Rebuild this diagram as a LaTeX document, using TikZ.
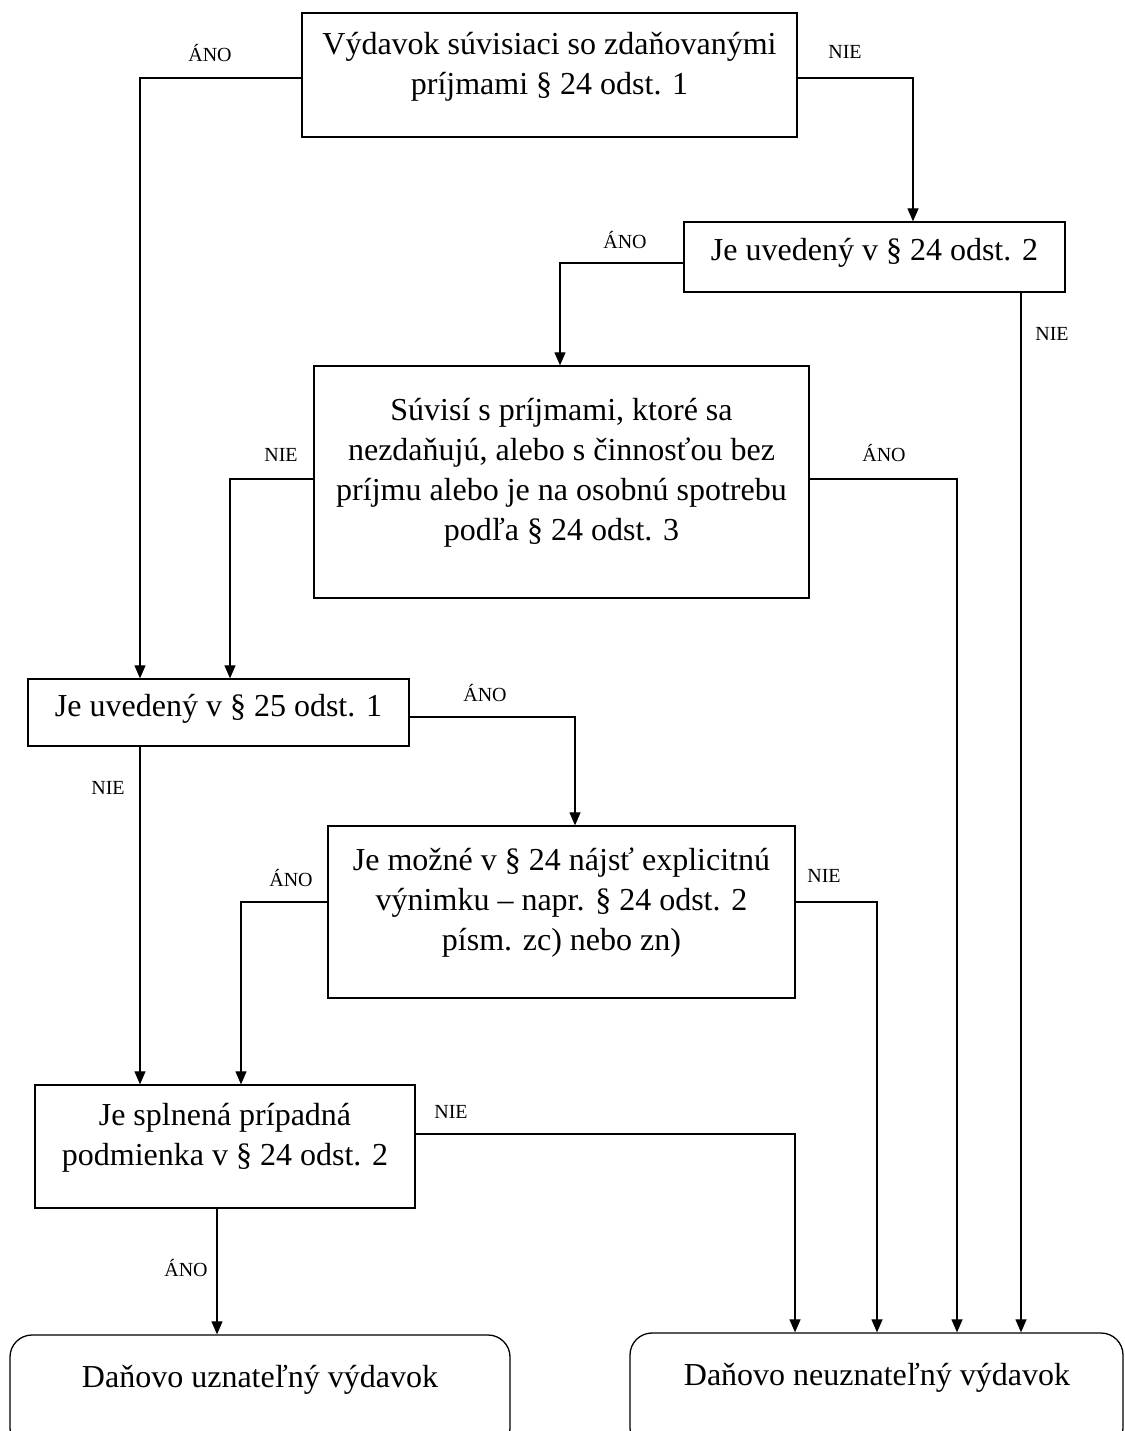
\documentclass[tikz,border=0pt]{standalone}
\usepackage{fontspec}
\setmainfont{Liberation Serif}
\usetikzlibrary{arrows.meta}
\begin{document}
\begin{tikzpicture}[x=1pt,y=-1pt,
  box/.style={draw, line width=1.3pt, rectangle, inner sep=0pt},
  endbox/.style={box, rounded corners=22pt},
  txt/.style={align=center, font=\fontsize{32}{40}\selectfont, inner sep=0pt},
  lbl/.style={font=\fontsize{20}{24}\selectfont, inner sep=0pt},
  conn/.style={line width=1.2pt, -{Triangle[length=13pt,width=11pt]}}]
\useasboundingbox (0,0) rectangle (1124,1431);
\clip (0,0) rectangle (1124,1431);
% boxes
\node[box, minimum width=495pt, minimum height=124pt] (b1) at (549.5,75) {};
\node[box, minimum width=381pt, minimum height=70pt] (b2) at (874.5,257) {};
\node[box, minimum width=495pt, minimum height=232pt] (b3) at (561.5,482) {};
\node[box, minimum width=381pt, minimum height=67pt] (b4) at (218.5,712.5) {};
\node[box, minimum width=467pt, minimum height=172pt] (b5) at (561.5,912) {};
\node[box, minimum width=380pt, minimum height=123pt] (b6) at (225,1146.5) {};
\node[endbox, minimum width=500pt, minimum height=115pt] (b7) at (260,1392.5) {};
\node[endbox, minimum width=493pt, minimum height=117pt] (b8) at (876.5,1391.5) {};
% texts
\node[txt] (t1) at (549.5,67) {Výdavok súvisiaci so zdaňovanými\\príjmami § 24 odst. 1};
\node[txt] (t2) at (874.5,253) {Je uvedený v § 24 odst. 2};
\node[txt] (t3) at (561.5,473) {Súvisí s príjmami, ktoré sa\\nezdaňujú, alebo s činnosťou bez\\príjmu alebo je na osobnú spotrebu\\podľa § 24 odst. 3};
\node[txt] (t4) at (218.5,709) {Je uvedený v § 25 odst. 1};
\node[txt] (t5) at (561.5,903) {Je možné v § 24 nájsť explicitnú\\výnimku – napr. § 24 odst. 2\\písm. zc) nebo zn)};
\node[txt] (t6) at (225,1138) {Je splnená prípadná\\podmienka v § 24 odst. 2};
\node[txt] (t7) at (260,1380) {Daňovo uznateľný výdavok};
\node[txt] (t8) at (877,1378) {Daňovo neuznateľný výdavok};
% connectors
\draw[conn] ([yshift=-3pt]b1.west) -| ([xshift=-78.5pt]b4.north);
\draw[conn] ([yshift=-3pt]b1.east) -| ([xshift=38.5pt]b2.north);
\draw[conn] ([yshift=-6pt]b2.west) -| ([xshift=-1.5pt]b3.north);
\draw[conn] ([xshift=146.5pt]b2.south) -- ([xshift=146.5pt]b2.south |- b8.north);
\draw[conn] ([yshift=3pt]b3.west) -| ([xshift=11.5pt]b4.north);
\draw[conn] ([yshift=3pt]b3.east) -| ([xshift=80.5pt]b8.north);
\draw[conn] ([yshift=-4.5pt]b4.east) -| ([xshift=13.5pt]b5.north);
\draw[conn] ([xshift=-78.5pt]b4.south) -- ([xshift=-78.5pt]b4.south |- b6.north);
\draw[conn] ([yshift=10pt]b5.west) -| ([xshift=16pt]b6.north);
\draw[conn] ([yshift=10pt]b5.east) -| ([xshift=0.5pt]b8.north);
\draw[conn] ([yshift=12.5pt]b6.east) -| ([xshift=-81.5pt]b8.north);
\draw[conn] ([xshift=-8pt]b6.south) -- ([xshift=-8pt]b6.south |- b7.north);
% labels
\node[lbl] (l1) at (210,53) {ÁNO};
\node[lbl] (l2) at (845,52) {NIE};
\node[lbl] (l3) at (625,240) {ÁNO};
\node[lbl] (l4) at (1052,334) {NIE};
\node[lbl] (l5) at (281,455) {NIE};
\node[lbl] (l6) at (884,453) {ÁNO};
\node[lbl] (l7) at (485,693) {ÁNO};
\node[lbl] (l8) at (108,788) {NIE};
\node[lbl] (l9) at (291,878) {ÁNO};
\node[lbl] (l10) at (824,876) {NIE};
\node[lbl] (l11) at (451,1112) {NIE};
\node[lbl] (l12) at (186,1268) {ÁNO};
\end{tikzpicture}
\end{document}
